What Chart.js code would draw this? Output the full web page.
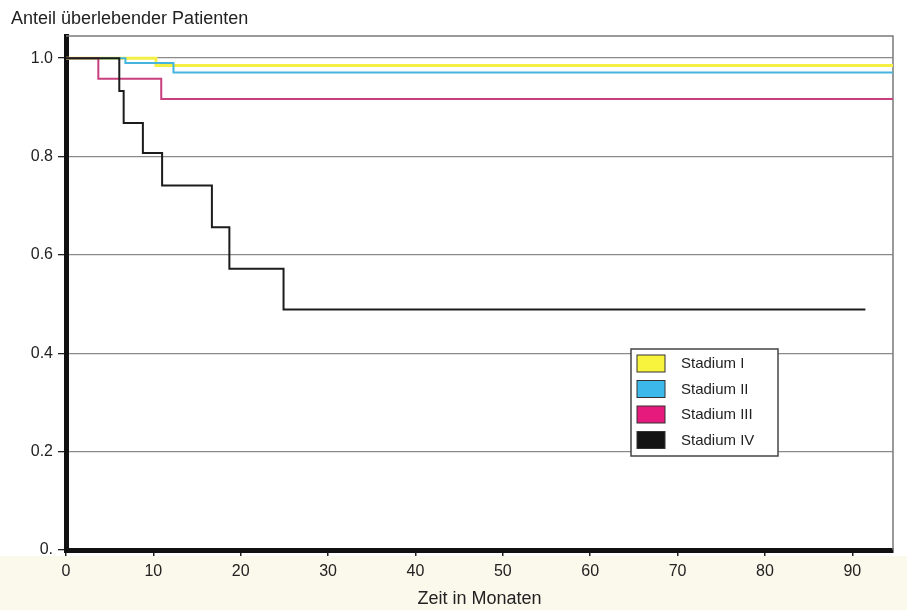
<!DOCTYPE html>
<html>
<head>
<meta charset="utf-8">
<script src="https://cdn.jsdelivr.net/npm/chart.js@4/dist/chart.umd.min.js"></script>
<style>
    html, body { margin: 0; padding: 0; background: #fff; }
    #wrap { width: 907px; height: 610px; position: relative; }
</style>
</head>
<body>
<div id="wrap"><canvas id="survivalChart" width="907" height="610"></canvas></div>
<script>
// Kaplan-Meier curves, values
const seriesNames = ['Stadium I', 'Stadium II', 'Stadium III', 'Stadium IV'];

const stage1Months = [0, 10.3, 94.66];
const stage1Surv   = [1.0, 0.985, 0.985];

const stage2Months = [0, 6.8, 12.3, 94.66];
const stage2Surv   = [1.0, 0.990, 0.971, 0.971];

const stage3Months = [0, 3.7, 10.9, 94.66];
const stage3Surv   = [1.0, 0.958, 0.917, 0.917];

const stage4Months = [0, 6.1, 6.6, 8.8, 11.0, 16.7, 18.7, 24.9, 91.5];
const stage4Surv   = [1.0, 0.933, 0.868, 0.807, 0.741, 0.656, 0.572, 0.489, 0.489];

const xTickValues = [0, 10, 20, 30, 40, 50, 60, 70, 80, 90];
const yTickValues = [0, 0.2, 0.4, 0.6, 0.8, 1.0];
const yTickLabels = ['0.', '0.2', '0.4', '0.6', '0.8', '1.0'];

const lineColors   = ['#f4ef45', '#45b5de', '#c83f7e', '#1c1c1c'];
const legendColors = ['#f8f33c', '#3cb9ea', '#e6197d', '#141414'];

const FONT = "'Liberation Sans', Arial, Helvetica, sans-serif";

function toPoints(months, surv) {
    return months.map((m, i) => ({ x: m, y: surv[i] }));
}

// gray frame on top and right of the plot, faint scan tint below
const framePlugin = {
    id: 'frame',
    beforeDraw(chart) {
        const { ctx, chartArea } = chart;
        ctx.save();
        ctx.fillStyle = '#fff';
        ctx.fillRect(0, 0, chart.width, chart.height);
        ctx.fillStyle = '#fbf9ec';
        ctx.fillRect(0, chartArea.bottom + 6, chart.width, chart.height - chartArea.bottom - 6);
        ctx.restore();
    },
    beforeDatasetsDraw(chart) {
        const { ctx, chartArea } = chart;
        ctx.save();
        ctx.strokeStyle = '#7a7a7a';
        ctx.lineWidth = 1.5;
        ctx.beginPath();
        ctx.moveTo(chartArea.left, chartArea.top);
        ctx.lineTo(chartArea.right, chartArea.top);
        ctx.lineTo(chartArea.right, chartArea.bottom);
        ctx.stroke();
        ctx.restore();
    }
};

// y-axis caption above the plot
const captionPlugin = {
    id: 'caption',
    afterDraw(chart) {
        const { ctx } = chart;
        ctx.save();
        ctx.font = '18px ' + FONT;
        ctx.fillStyle = '#222';
        ctx.textBaseline = 'alphabetic';
        ctx.fillText('Anteil überlebender Patienten', 11, 24);
        ctx.restore();
    }
};

// boxed legend inside the plot area
const boxLegendPlugin = {
    id: 'boxLegend',
    afterDraw(chart) {
        const { ctx, chartArea } = chart;
        const left = chartArea.left + 565;
        const top = 349;
        const w = 147, h = 107;
        ctx.save();
        ctx.fillStyle = '#fff';
        ctx.fillRect(left, top, w, h);
        ctx.strokeStyle = '#444';
        ctx.lineWidth = 1.5;
        ctx.strokeRect(left, top, w, h);
        ctx.font = '15px ' + FONT;
        ctx.textBaseline = 'middle';
        seriesNames.forEach((name, i) => {
            const cy = top + 14 + i * 25.5;
            ctx.fillStyle = legendColors[i];
            ctx.fillRect(left + 6, cy - 8, 28, 17);
            ctx.strokeStyle = '#333';
            ctx.lineWidth = 1;
            ctx.strokeRect(left + 6, cy - 8, 28, 17);
            ctx.fillStyle = '#222';
            ctx.fillText(name, left + 50, cy + 1);
        });
        ctx.restore();
    }
};

const allMonths = [stage1Months, stage2Months, stage3Months, stage4Months];
const allSurv = [stage1Surv, stage2Surv, stage3Surv, stage4Surv];

const datasets = seriesNames.map((name, i) => ({
    label: name,
    data: toPoints(allMonths[i], allSurv[i]),
    borderColor: lineColors[i],
    borderWidth: i === 0 ? 3 : 2,
    stepped: 'before',
    pointRadius: 0,
    fill: false,
    order: 3 - i
}));

new Chart(document.getElementById('survivalChart'), {
    type: 'line',
    data: { datasets },
    options: {
        responsive: false,
        animation: false,
        layout: { padding: { top: 36, right: 14, left: 0, bottom: 0 } },
        plugins: {
            legend: { display: false },
            tooltip: { enabled: false }
        },
        scales: {
            x: {
                type: 'linear',
                min: 0,
                max: 94.66,
                afterBuildTicks(scale) {
                    scale.ticks = xTickValues.map(v => ({ value: v }));
                },
                afterFit(scale) { scale.height = 60; },
                grid: { drawOnChartArea: false, drawTicks: true, tickLength: 6, tickColor: '#222', lineWidth: 1.5 },
                border: { display: true, color: '#111', width: 5 },
                ticks: {
                    color: '#222',
                    font: { family: FONT, size: 16 },
                    padding: 6,
                    maxRotation: 0,
                    callback: (v) => String(v)
                },
                title: {
                    display: true,
                    text: 'Zeit in Monaten',
                    color: '#222',
                    font: { family: FONT, size: 18 },
                    padding: { top: 0, bottom: 0 }
                }
            },
            y: {
                min: 0,
                max: 1.045,
                afterBuildTicks(scale) {
                    scale.ticks = yTickValues.map(v => ({ value: v }));
                },
                afterFit(scale) { scale.width = 66; },
                grid: { color: '#8a8a8a', lineWidth: 1.3, drawTicks: true, tickLength: 8, tickColor: '#222' },
                border: { display: true, color: '#111', width: 5 },
                ticks: {
                    color: '#222',
                    font: { family: FONT, size: 16 },
                    padding: 5,
                    callback: (v, i) => yTickLabels[i]
                }
            }
        }
    },
    plugins: [framePlugin, captionPlugin, boxLegendPlugin]
});
</script>
</body>
</html>
